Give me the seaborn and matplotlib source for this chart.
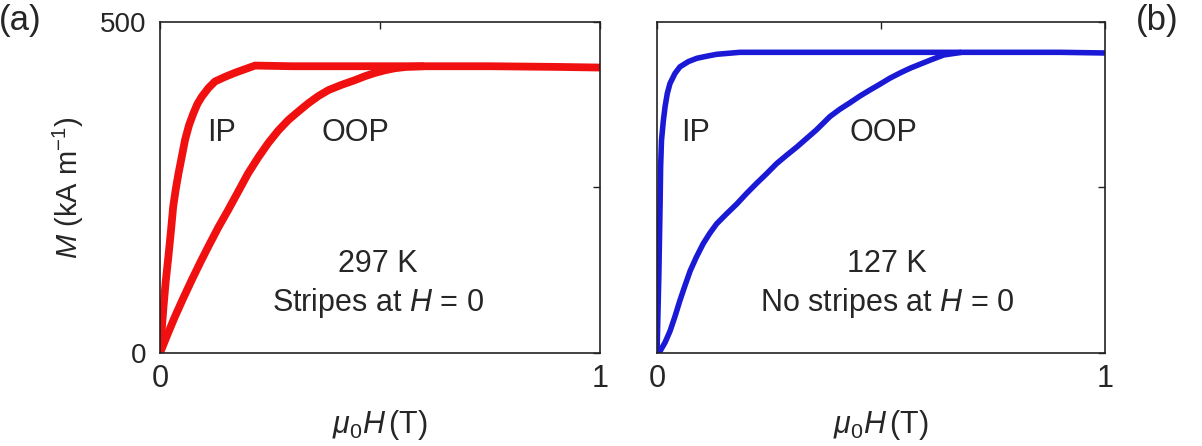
import matplotlib

matplotlib.use("Agg")
import matplotlib.pyplot as plt
import seaborn as sns

# field (T) and magnetisation (kA/m)
red_ip_h = [0.0, 0.004, 0.008, 0.013, 0.019, 0.025, 0.030, 0.036, 0.042, 0.050, 0.057, 0.066,
            0.076, 0.085, 0.095, 0.110, 0.125, 0.148, 0.170, 0.195, 0.216, 0.30, 0.45, 0.60,
            0.75, 0.90, 1.0]
red_ip_m = [0, 35, 70, 108, 145, 185, 221, 248, 271, 298, 322, 344,
            362, 376, 387, 400, 410, 417, 423, 429, 434, 433, 433, 433,
            433, 432, 431]

red_oop_h = [0.0, 0.017, 0.034, 0.053, 0.072, 0.091, 0.110, 0.132, 0.155, 0.178, 0.200, 0.223,
             0.246, 0.269, 0.292, 0.315, 0.337, 0.360, 0.383, 0.413, 0.443, 0.466, 0.489, 0.512,
             0.534, 0.56, 0.60]
red_oop_m = [0, 28, 55, 83, 110, 136, 161, 189, 216, 244, 271, 295,
             317, 336, 352, 365, 377, 388, 397, 405, 412, 418, 423, 427,
             430, 432, 433]

blue_ip_h = [0.0, 0.004, 0.007, 0.008, 0.010, 0.014, 0.018, 0.023, 0.029, 0.040, 0.051, 0.070,
             0.089, 0.110, 0.133, 0.185, 0.30, 0.45, 0.60, 0.75, 0.90, 1.0]
blue_ip_m = [0, 115, 230, 280, 321, 350, 372, 392, 407, 422, 432, 440,
             445, 448, 451, 454, 454, 454, 454, 454, 454, 453]

blue_oop_h = [0.0, 0.007, 0.018, 0.029, 0.040, 0.051, 0.062, 0.074, 0.088, 0.103, 0.118, 0.133,
              0.155, 0.178, 0.200, 0.222, 0.245, 0.267, 0.290, 0.312, 0.334, 0.356, 0.371, 0.386,
              0.408, 0.431, 0.453, 0.475, 0.498, 0.520, 0.543, 0.565, 0.587, 0.609, 0.640, 0.68]
blue_oop_m = [0, 3, 16, 33, 55, 79, 101, 124, 145, 165, 181, 195,
              210, 225, 241, 256, 271, 286, 299, 311, 324, 337, 347, 357,
              368, 378, 388, 397, 406, 415, 423, 430, 436, 442, 450, 454]

panels = [
    {"ip": (red_ip_h, red_ip_m), "oop": (red_oop_h, red_oop_m), "color": "#f01010", "lw": 5.6,
     "temp": "297 K", "note": "Stripes at $H$ = 0", "tag": "(a)",
     "ip_pos": (0.14, 332), "oop_pos": (0.445, 332), "txt_x": 0.495},
    {"ip": (blue_ip_h, blue_ip_m), "oop": (blue_oop_h, blue_oop_m), "color": "#1a1ad6", "lw": 4.0,
     "temp": "127 K", "note": "No stripes at $H$ = 0", "tag": "(b)",
     "ip_pos": (0.085, 332), "oop_pos": (0.505, 332), "txt_x": 0.514},
]

sns.set_theme(style="white")
plt.rcParams["font.family"] = ["Liberation Sans", "DejaVu Sans"]
plt.rcParams["mathtext.fontset"] = "custom"
plt.rcParams["mathtext.rm"] = "Liberation Sans"
plt.rcParams["mathtext.it"] = "Liberation Sans:italic"

fig = plt.figure(figsize=(12.02, 4.46), dpi=100)
ax_rects = [[0.1331, 0.2085, 0.3661, 0.7425], [0.5466, 0.2085, 0.3727, 0.7425]]

for rect, p in zip(ax_rects, panels):
    ax = fig.add_axes(rect)
    for h, m in (p["ip"], p["oop"]):
        sns.lineplot(x=h, y=m, ax=ax, color=p["color"], linewidth=p["lw"],
                     sort=False, estimator=None, solid_capstyle="butt",
                     solid_joinstyle="round")
    ax.set_xlim(0, 1)
    ax.set_ylim(0, 500)
    ax.set_xticks([0, 0.5, 1])
    ax.set_xticklabels(["0", "", "1"], fontsize=22)
    ax.set_yticks([0, 250, 500])
    ax.tick_params(axis="both", direction="in", top=True, right=True,
                   length=5, width=1, color="#222222")
    ax.tick_params(axis="x", pad=8)
    ax.tick_params(axis="y", pad=10)
    for s in ax.spines.values():
        s.set_color("#222222")
        s.set_linewidth(1.2)
    ax.set_xlabel(r"$\mu_0H\,$(T)", fontsize=22, labelpad=10)
    ax.text(*p["ip_pos"], "IP", fontsize=22, ha="center", va="center")
    ax.text(*p["oop_pos"], "OOP", fontsize=22, ha="center", va="center")
    ax.text(p["txt_x"], 135, p["temp"], fontsize=22, ha="center", va="center")
    ax.text(p["txt_x"], 76, p["note"], fontsize=22, ha="center", va="center")
    if p["tag"] == "(a)":
        ax.set_yticklabels(["0", "", "500"], fontsize=20)
        ax.set_ylabel(r"$M$ (kA m$^{-1}$)", fontsize=21, labelpad=10)
    else:
        ax.set_yticklabels([])
        ax.set_ylabel("")

fig.text(0.017, 0.955, "(a)", fontsize=25, ha="center", va="center")
fig.text(0.963, 0.955, "(b)", fontsize=25, ha="center", va="center")

fig.savefig("out.png", dpi=100, facecolor="white")
